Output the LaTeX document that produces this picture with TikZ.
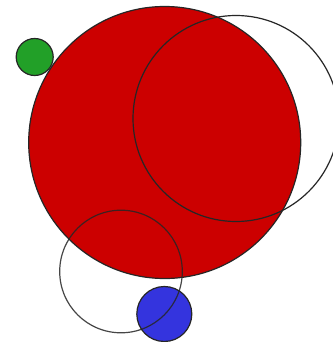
\documentclass[tikz,border=0pt]{standalone}
\definecolor{bigred}{RGB}{204,0,0}
\definecolor{smallgreen}{RGB}{34,160,40}
\definecolor{smallblue}{RGB}{52,52,222}
\tikzset{ring/.style={draw=black!85,line width=1.2pt}}
\begin{document}
\begin{tikzpicture}[x=1pt,y=-1pt]
\useasboundingbox (0,0) rectangle (332,342);
\fill[white] (0,0) rectangle (332,342);
\draw[ring,fill=bigred] (164.7,142.5) circle (136);
\draw[ring,fill=smallgreen] (34.7,57) circle (18.5);
\draw[ring] (236,118.5) circle (103);
\draw[ring,fill=smallblue] (164.3,314) circle (27.5);
\draw[ring,draw opacity=0.85] (121,271.5) circle (61.3);
\end{tikzpicture}
\end{document}
